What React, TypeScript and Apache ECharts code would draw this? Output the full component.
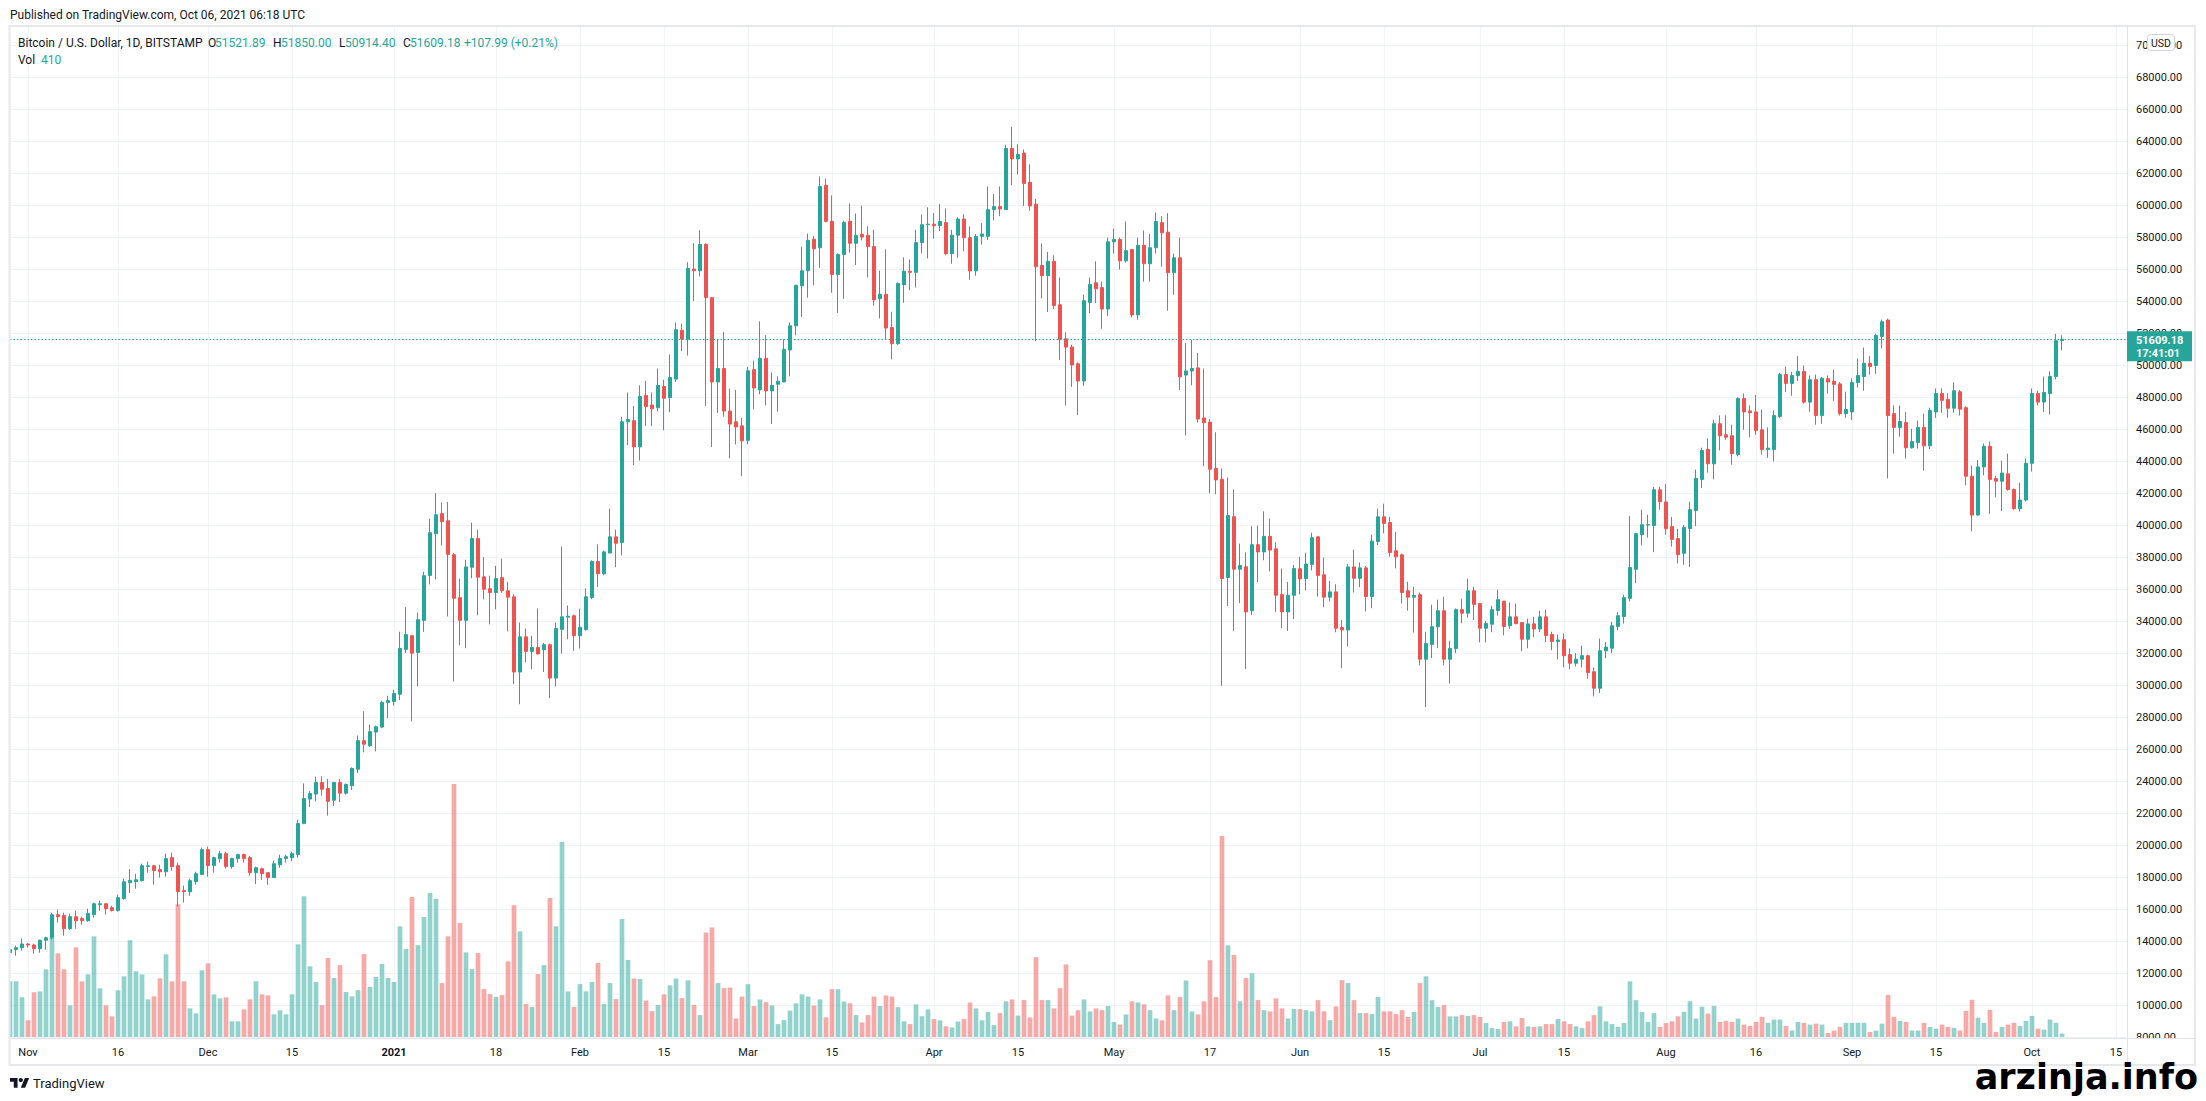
import React, { useEffect, useRef } from 'react';
import * as echarts from 'echarts';

// ---------- categories ----------
const startDate = Date.UTC(2020, 9, 29);
const dayCount = 354; // Oct 29 2020 .. Oct 17 2021 (right side empty)
const dates: string[] = Array.from({ length: dayCount }, (_, i) =>
  new Date(startDate + i * 86400000).toISOString().slice(0, 10)
);

const tickDates = ['2020-11-01', '2020-11-16', '2020-12-01', '2020-12-15', '2021-01-01', '2021-01-18', '2021-02-01', '2021-02-15', '2021-03-01', '2021-03-15', '2021-04-01', '2021-04-15', '2021-05-01', '2021-05-17', '2021-06-01', '2021-06-15', '2021-07-01', '2021-07-15', '2021-08-01', '2021-08-16', '2021-09-01', '2021-09-15', '2021-10-01', '2021-10-15'];
const tickLabels = ['Nov', '16', 'Dec', '15', '2021', '18', 'Feb', '15', 'Mar', '15', 'Apr', '15', 'May', '17', 'Jun', '15', 'Jul', '15', 'Aug', '16', 'Sep', '15', 'Oct', '15'];

// ---------- OHLC rows: [open, high, low, close] ----------
const oct2020 = [
  [13270, 13646, 12980, 13460], [13460, 13710, 13080, 13580], [13580, 14150, 13400, 13810],
];
const nov2020 = [
  [13810, 13870, 13600, 13750], [13750, 13830, 13210, 13520], [13520, 14080, 13270, 14050], [14050, 14270, 13460, 14200],
  [14200, 15770, 14100, 15640], [15640, 15960, 15150, 15520], [15600, 15770, 14330, 14770], [14770, 15710, 14700, 15520],
  [15520, 15900, 14770, 15270], [15400, 15520, 15020, 15270], [15270, 16020, 15200, 15710], [15650, 16400, 15460, 16330],
  [16270, 16520, 15900, 16330], [16330, 16330, 15650, 16020], [16080, 16200, 15840, 15900], [15900, 16900, 15840, 16710],
  [16650, 17900, 16580, 17700], [17640, 18500, 17000, 17790], [17710, 18200, 17270, 17830], [17770, 18830, 17710, 18710],
  [18650, 18960, 18270, 18700], [18700, 18770, 17520, 18400], [18460, 18770, 17960, 18330], [18330, 19460, 18020, 19150],
  [19210, 19520, 18390, 18650], [18710, 18900, 16150, 17080], [17150, 17460, 16400, 17080], [17080, 17900, 16830, 17770],
  [17710, 18330, 17520, 18200], [18150, 19840, 18150, 19710],
];
const dec2020 = [
  [19710, 19900, 18020, 18710], [18710, 19270, 18270, 19210], [19150, 19640, 18900, 19460], [19460, 19580, 18520, 18650],
  [18650, 19210, 18520, 19150], [19150, 19460, 18900, 19400], [19400, 19460, 18900, 19150], [19210, 19330, 18080, 18270],
  [18270, 18650, 17560, 18580], [18520, 18580, 17830, 18210], [18270, 18270, 17520, 17960], [17960, 19020, 17960, 18830],
  [18770, 19390, 18580, 19150], [19150, 19390, 18900, 19270], [19210, 19580, 18980, 19460], [19400, 21580, 19210, 21350],
  [21350, 23850, 21300, 22910], [22870, 23360, 22380, 23220], [23180, 24270, 22730, 23910], [23910, 24300, 23080, 23490],
  [23530, 24130, 21840, 22730], [22800, 23940, 22440, 23910], [23910, 24130, 22690, 23240], [23240, 23840, 23150, 23780],
  [23710, 24850, 23440, 24780], [24740, 26840, 24490, 26520], [26520, 28360, 25790, 26300], [26210, 27530, 26120, 27080],
  [27060, 27460, 25850, 27390], [27370, 29020, 27300, 28910], [28910, 29330, 27930, 29020],
];
const jan2021 = [
  [28970, 29710, 28710, 29470], [29420, 33330, 29060, 32280], [32230, 34860, 31990, 33150], [33080, 33080, 27730, 31990],
  [32030, 34530, 29910, 34080], [34040, 37070, 33320, 36830], [36850, 40390, 36290, 39520], [39460, 42000, 36600, 40640],
  [40710, 41400, 38720, 40220], [40260, 41440, 34280, 38160], [38140, 38250, 30230, 35420], [35460, 36650, 32480, 34040],
  [34040, 37830, 32300, 37380], [37360, 40150, 36670, 39150], [39150, 39710, 34350, 36740], [36760, 37990, 35350, 35980],
  [36020, 36830, 33790, 35780], [35780, 37450, 34730, 36650], [36710, 37900, 35760, 35890], [35890, 36450, 33350, 35490],
  [35510, 35660, 30050, 30810], [30810, 33900, 28800, 33010], [33010, 33530, 31430, 32100], [32100, 33080, 30980, 32340],
  [32340, 34790, 31920, 31940], [32210, 32630, 30810, 32520], [32520, 32590, 29180, 30430], [30430, 33900, 29910, 33530],
  [33480, 38650, 31970, 34260], [34240, 34970, 32860, 34300], [34330, 34400, 32140, 33080],
];
const feb2021 = [
  [33080, 34770, 32280, 33610], [33460, 36040, 33400, 35510], [35470, 37790, 35360, 37720], [37720, 38790, 36130, 36960],
  [36960, 38410, 36850, 38320], [38250, 41020, 38230, 39260], [39260, 39710, 37360, 38860], [38900, 46770, 38100, 46450],
  [46450, 48280, 45000, 46590], [46520, 47430, 43750, 44880], [44880, 48730, 44030, 48030], [48100, 49010, 46200, 47400],
  [47500, 48280, 46170, 47260], [47330, 49780, 47120, 48730], [48660, 49080, 45920, 47920], [47960, 50660, 47050, 49220],
  [49120, 52660, 48940, 52210], [52170, 52590, 50870, 51610], [51610, 56420, 50590, 56030], [56000, 57610, 54000, 55890],
  [55890, 58420, 55540, 57540], [57540, 57610, 47440, 54210], [54210, 54210, 44870, 48940], [48940, 51580, 47010, 49780],
  [49780, 52070, 46770, 47120], [47120, 48520, 44170, 46310], [46450, 48450, 45040, 46130], [46200, 46700, 43050, 45260],
];
const mar2021 = [
  [45290, 49880, 45050, 49640], [49710, 50280, 47230, 48560], [48450, 52730, 48170, 50420], [50420, 51860, 47470, 48380],
  [48380, 49540, 46310, 48730], [48800, 49290, 47080, 48980], [48940, 51610, 48940, 50980], [50940, 52660, 49290, 52450],
  [52450, 55020, 51860, 54980], [54950, 57400, 53010, 55890], [55890, 58210, 54210, 57790], [57860, 58070, 54980, 57260],
  [57330, 61790, 56070, 61160], [61230, 61650, 58910, 58980], [58980, 60600, 54520, 55650], [55650, 56980, 53260, 56910],
  [56910, 59020, 54140, 58910], [58980, 60100, 57020, 57610], [57610, 59470, 56250, 58100], [58170, 59960, 57790, 58000],
  [58100, 58670, 55470, 57400], [57400, 58450, 53710, 54070], [54140, 55890, 52910, 54420], [54420, 57230, 51610, 52310],
  [52340, 53330, 50350, 51330], [51330, 55160, 51260, 55090], [55020, 56730, 53890, 55860], [55860, 56590, 54670, 55790],
  [55790, 58450, 54840, 57650], [57650, 59400, 56980, 58770], [58770, 59860, 56660, 58800],
];
const apr2021 = [
  [58800, 59490, 57890, 58700], [58710, 60050, 58370, 58970], [58900, 59790, 56850, 56960], [56960, 58450, 56330, 58110],
  [58110, 59230, 56700, 59120], [59120, 59420, 57110, 57960], [57960, 58670, 55320, 55880], [55880, 58190, 55580, 58040],
  [58040, 58860, 57520, 58190], [58040, 61160, 57820, 59710], [59710, 60680, 59040, 59900], [59900, 61160, 59300, 59750],
  [59710, 63770, 59710, 63540], [63540, 64880, 61240, 62880], [62880, 63800, 61900, 63170], [63250, 63470, 59940, 61350],
  [61420, 62540, 59640, 59940], [60050, 60380, 51490, 56140], [56220, 57590, 54170, 55580], [55580, 57070, 53310, 56480],
  [56480, 56850, 53500, 53720], [53760, 55470, 50300, 51600], [51640, 52050, 47470, 51120], [51120, 51270, 48630, 50000],
  [50080, 50160, 46880, 49000], [49000, 54390, 48700, 54020], [53910, 55470, 53240, 55030], [55140, 56480, 53870, 54770],
  [54840, 55210, 52270, 53500], [53500, 57960, 53060, 57700],
];
const may2021 = [
  [57700, 58520, 56960, 57850], [57850, 57960, 55960, 56510], [56510, 58970, 56400, 57150], [57220, 57220, 52980, 53130],
  [53130, 57960, 52830, 57480], [57480, 58410, 55210, 56330], [56330, 58190, 55210, 57330], [57330, 59530, 56960, 58970],
  [58900, 59300, 56140, 58260], [58300, 59490, 53390, 55770], [55770, 56960, 54390, 56700], [56700, 57960, 48440, 49260],
  [49370, 51380, 45610, 49630], [49630, 51570, 48740, 49780], [49820, 50750, 46400, 46620], [46690, 49780, 43680, 46400],
  [46430, 46620, 41970, 43490], [43530, 45800, 41930, 42820], [42860, 43530, 29950, 36650], [36720, 42970, 34940, 40590],
  [40520, 42230, 33380, 37240], [37240, 38840, 35120, 37470], [37390, 38290, 30990, 34570], [34640, 39920, 34380, 38770],
  [38770, 39960, 36430, 38320], [38320, 40850, 37800, 39290], [39290, 40410, 37100, 38430], [38510, 38920, 34570, 35610],
  [35650, 37280, 33560, 34570], [34570, 36430, 33380, 35610], [35610, 37500, 34120, 37280],
];
const jun2021 = [
  [37270, 38010, 35670, 36630], [36650, 38270, 35910, 37560], [37540, 39520, 37160, 39210], [39260, 39260, 35530, 36850],
  [36890, 37960, 34860, 35490], [35490, 36510, 35220, 35820], [35820, 36300, 33300, 33550], [33590, 34060, 31050, 33440],
  [33440, 37560, 32410, 37380], [37380, 38450, 35780, 36670], [36670, 37660, 36120, 37320], [37320, 37430, 34600, 35530],
  [35530, 39390, 34800, 38990], [38970, 41020, 38750, 40510], [40510, 41330, 39480, 40100], [40150, 40510, 38030, 38280],
  [38390, 39570, 37290, 38010], [38140, 38210, 35090, 35780], [35890, 36450, 34640, 35490], [35490, 36140, 33280, 35600],
  [35640, 35780, 31230, 31610], [31610, 33330, 28620, 32590], [32540, 35020, 31680, 33640], [33640, 35330, 32300, 34640],
  [34640, 35510, 31230, 31610], [31610, 32770, 30090, 32280], [32280, 34780, 31990, 34710], [34710, 35400, 33860, 34490],
  [34490, 36650, 34220, 35890], [35890, 36140, 34060, 35040],
];
const jul2021 = [
  [35090, 35090, 32660, 33550], [33550, 34000, 32660, 33840], [33800, 34950, 33300, 34710], [34660, 35960, 34330, 35330],
  [35240, 35240, 33100, 33660], [33700, 35150, 33500, 34260], [34260, 35090, 33790, 33840], [33900, 33900, 32100, 32860],
  [32860, 34150, 32300, 33820], [33820, 34260, 32990, 33500], [33500, 34640, 33300, 34260], [34260, 34710, 32680, 33100],
  [33150, 33330, 32170, 32720], [32720, 33150, 31610, 32810], [32830, 33210, 31100, 31830], [31900, 32280, 30980, 31360],
  [31360, 31990, 31160, 31610], [31610, 32460, 31100, 31830], [31830, 31900, 30400, 30780], [30830, 31100, 29290, 29800],
  [29800, 32900, 29490, 32140], [32140, 32680, 31680, 32370], [32300, 33950, 31990, 33700], [33660, 34570, 33410, 34330],
  [34280, 35640, 33840, 35460], [35420, 40570, 35220, 37340], [37230, 39520, 36360, 39460], [39390, 40950, 38720, 40020],
  [40000, 40640, 39210, 40020], [39970, 42380, 38300, 42200], [42200, 42380, 40950, 41460],
];
const aug2021 = [
  [41440, 42580, 39390, 39770], [39900, 40500, 38650, 39100], [39150, 39750, 37600, 38140], [38230, 40010, 37520, 39840],
  [39780, 41450, 37380, 40960], [40900, 43460, 39930, 42910], [42850, 44830, 42310, 44660], [44720, 45410, 43280, 43830],
  [43830, 46580, 42850, 46330], [46330, 46850, 44660, 45580], [45640, 46850, 45320, 45490], [45580, 46270, 43770, 44460],
  [44400, 47990, 44290, 47900], [47900, 48220, 45950, 47070], [47130, 47470, 45470, 47020], [47070, 48130, 45640, 45900],
  [45950, 47210, 44400, 44720], [44720, 46100, 44200, 44800], [44720, 47160, 43970, 46840], [46790, 49510, 46700, 49400],
  [49400, 49890, 48310, 48850], [48850, 49570, 48080, 49340], [49340, 50570, 49000, 49600], [49600, 49970, 47590, 47680],
  [47680, 49340, 47070, 49080], [49080, 49400, 46270, 46840], [46840, 49250, 46330, 49170], [49140, 49340, 48220, 48940],
  [48970, 49710, 47760, 48790], [48820, 48940, 46840, 46960], [46960, 48330, 46700, 47220],
];
const sep2021 = [
  [47070, 49170, 46560, 48910], [48910, 50400, 48590, 49340], [49280, 51090, 48390, 50110], [50110, 50570, 49400, 49910],
  [49970, 51950, 49450, 51840], [51780, 52840, 51030, 52700], [52810, 52900, 42910, 46840], [46960, 47470, 44460, 46100],
  [46100, 47470, 45520, 46470], [46410, 47070, 44150, 44830], [44830, 46010, 44780, 45210], [45150, 46530, 44780, 46100],
  [46100, 46960, 43400, 44950], [44950, 47330, 44750, 47160], [47070, 48540, 46700, 48220], [48220, 48540, 47010, 47790],
  [47850, 48220, 46700, 47300], [47300, 48910, 47010, 48390], [48330, 48450, 46840, 47240], [47330, 47420, 42480, 43050],
  [43050, 43710, 39610, 40620], [40620, 44060, 40580, 43630], [43630, 45090, 43110, 44920], [44920, 45210, 40700, 42850],
  [42910, 43080, 41730, 42740], [42740, 44030, 40870, 43250], [43200, 44460, 42140, 42220], [42220, 42280, 40960, 41020],
  [41020, 42650, 40840, 41560], [41560, 44150, 41480, 43860],
];
const oct2021 = [
  [43860, 48540, 43340, 48220], [48220, 48390, 47470, 47680], [47680, 49280, 47070, 48280], [48220, 49600, 46900, 49280],
  [49280, 51950, 49110, 51520], [51521.89, 51850.0, 50914.4, 51609.18],
];

// ---------- volume (BTC) ----------
const volOct2020 = [6680, 6680, 4760];
const volNov2020 = [2000, 5360, 5480, 8120, 11920, 10040, 8120, 3800, 10760, 6680, 7520, 12080, 5840, 3800, 2480, 5600, 7280, 11600, 7880, 7520, 4520, 4880, 7040, 9920, 6680, 15920, 6680, 3440, 2840, 8000];
const volDec2020 = [8840, 5120, 4640, 4760, 1880, 1880, 3320, 4520, 6680, 5120, 5000, 2720, 3200, 2720, 5120, 11120, 16880, 8480, 6600, 3820, 9470, 7070, 8620, 5400, 4880, 5620, 9950, 6000, 7200, 8750, 7070];
const volJan2021 = [6600, 13280, 10550, 16800, 11020, 14400, 17270, 16550, 6470, 12080, 30350, 13670, 10150, 8150, 10070, 5750, 5150, 4800, 5020, 9080, 15820, 12680, 3950, 3600, 7550, 8620, 16670, 13280, 23400, 5480, 3600];
const volFeb2021 = [6350, 5480, 6600, 8870, 3950, 6470, 4550, 14160, 9240, 7010, 6950, 4380, 3100, 3840, 5120, 6200, 7010, 4660, 6800, 3840, 2630, 12540, 13150, 6470, 5870, 5930, 2220, 4850];
const volMar2021 = [6340, 3710, 4510, 4180, 3780, 1550, 2030, 3170, 4040, 5120, 4850, 3780, 4510, 2360, 5740, 5740, 4250, 4040, 2630, 1750, 2630, 4850, 3710, 4990, 4850, 3580, 1880, 1550, 3910, 2500, 3300];
const volApr2021 = [2150, 2000, 1280, 1140, 1860, 2150, 4140, 3430, 2000, 3000, 1430, 2860, 4280, 4500, 2570, 4430, 2350, 9580, 4430, 4430, 3430, 5860, 8710, 2570, 3220, 4500, 3070, 3430, 3220, 3720];
const volMay2021 = [1790, 1500, 2710, 4280, 4140, 3920, 3220, 2220, 2000, 5000, 3220, 4790, 6780, 3070, 2710, 4280, 9220, 4790, 24120, 11000, 9850, 4280, 7070, 7640, 4430, 3220, 3070, 4640, 3430, 2220, 3360];
const volJun2021 = [3350, 3220, 3080, 4420, 3080, 2020, 3680, 6820, 6470, 4420, 2870, 2870, 2750, 4800, 3080, 3080, 2750, 3220, 2400, 3000, 6470, 7280, 4420, 3600, 3820, 2480, 2480, 2620, 2530, 2620];
const volJul2021 = [2400, 1670, 1070, 950, 1800, 1880, 1280, 2270, 1280, 1200, 1280, 1550, 1550, 2150, 1880, 1550, 1280, 1070, 1880, 2620, 3680, 1880, 1550, 1200, 1670, 6680, 4420, 3000, 1800, 2870, 1200];
const volAug2021 = [1670, 1880, 2480, 3020, 4300, 2200, 3640, 2810, 3740, 1810, 1930, 1810, 2200, 1490, 1320, 1810, 2420, 1700, 2090, 2090, 1320, 770, 1810, 1700, 1490, 1600, 1490, 490, 770, 1210, 1700];
const volSep2021 = [1700, 1700, 1700, 600, 770, 1600, 5060, 2420, 1930, 1810, 770, 770, 1700, 1210, 1000, 1490, 1210, 1100, 770, 3130, 4460, 2320, 1700, 3250, 600, 1210, 1490, 1700, 1320, 1930];
const volOct2021 = [2530, 1000, 880, 2090, 1700, 410];

const priceTicks = { min: 8000, max: 70000, step: 2000 };

// ---------- assembled ----------
const ohlc = [...oct2020, ...nov2020, ...dec2020, ...jan2021, ...feb2021, ...mar2021, ...apr2021, ...may2021, ...jun2021, ...jul2021, ...aug2021, ...sep2021, ...oct2021];
const volumes = [...volOct2020, ...volNov2020, ...volDec2020, ...volJan2021, ...volFeb2021, ...volMar2021, ...volApr2021, ...volMay2021, ...volJun2021, ...volJul2021, ...volAug2021, ...volSep2021, ...volOct2021];
const last = ohlc[ohlc.length - 1];
const lastClose = last[3];

const UP = '#26a69a';
const DOWN = '#ef5350';
const UP_VOL = 'rgba(38,166,154,0.5)';
const DOWN_VOL = 'rgba(239,83,80,0.5)';
const TXT = '#131722';
const GRID = '#f0f3fa';
const FONT = 'Roboto, "Noto Sans", sans-serif';

echarts.graphic.registerShape(
  'tvlogo',
  echarts.graphic.extendPath('M14 22H7V11H0V4h14v18zM28 22h-8l7.5-18h8L28 22zM24 8a4 4 0 1 1-8 0 4 4 0 0 1 8 0z', {})
);

export default function App() {
  const ref = useRef<HTMLDivElement>(null);

  useEffect(() => {
    if (!ref.current) return;
    const chart = echarts.init(ref.current, undefined, { renderer: 'svg' });

    const tickSet = new Map<string, string>();
    tickDates.forEach((d, i) => tickSet.set(d, tickLabels[i]));
    const isTick = (_i: number, v: string) => tickSet.has(v);

    const candleData = ohlc.map((r) => [r[0], r[3], r[2], r[1]]);
    const volData = volumes.map((v, i) => ({
      value: v,
      itemStyle: { color: ohlc[i][3] >= ohlc[i][0] ? UP_VOL : DOWN_VOL },
    }));

    const txt = (id: string, text: string, x: number, y: number, fill: string, size = 12, extra: any = {}) => ({
      id, type: 'text', x, y, z: 60, silent: true,
      style: { text, fill, fontSize: size, fontFamily: FONT, verticalAlign: 'middle', align: 'left', ...extra },
    });

    const option: any = {
      animation: false,
      backgroundColor: '#ffffff',
      grid: [
        { left: 10, width: 2118, top: 45, height: 992 },
        { left: 10, width: 2118, top: 737, height: 300 },
        { left: 10, width: 2118, top: 26, height: 1012 },
      ],
      xAxis: [
        { type: 'category', gridIndex: 0, data: dates, boundaryGap: false, show: false },
        { type: 'category', gridIndex: 1, data: dates, boundaryGap: false, show: false },
        {
          type: 'category', gridIndex: 2, data: dates, boundaryGap: false,
          axisLine: { show: false }, axisTick: { show: false },
          axisLabel: {
            interval: isTick, margin: 9, color: TXT, fontSize: 11, fontFamily: FONT,
            formatter: (v: string) => (tickSet.get(v) === '2021' ? '{b|2021}' : tickSet.get(v) || ''),
            rich: { b: { fontWeight: 'bold', fontSize: 11, color: TXT, fontFamily: FONT } },
          },
          splitLine: { show: true, interval: isTick, lineStyle: { color: GRID, width: 1 } },
        },
      ],
      yAxis: [
        {
          type: 'value', gridIndex: 0, position: 'right', min: priceTicks.min, max: priceTicks.max, interval: priceTicks.step,
          axisLine: { show: false }, axisTick: { show: false },
          axisLabel: { formatter: (v: number) => v.toFixed(2), color: TXT, fontSize: 11, fontFamily: FONT, margin: 8, align: 'left' },
          splitLine: { show: true, lineStyle: { color: GRID, width: 1 } },
        },
        { type: 'value', gridIndex: 1, min: 0, max: 36000, show: false, splitLine: { show: false } },
        { type: 'value', gridIndex: 2, show: false, splitLine: { show: false } },
      ],
      series: [
        {
          type: 'bar', xAxisIndex: 1, yAxisIndex: 1, data: volData, barWidth: 4.7, z: 2,
        },
        {
          type: 'candlestick', xAxisIndex: 0, yAxisIndex: 0, data: candleData, barWidth: 3.8, z: 3,
          itemStyle: { color: UP, color0: DOWN, borderColor: UP, borderColor0: DOWN, borderColorDoji: UP, borderWidth: 1 },
          markLine: {
            silent: true, symbol: ['none', 'none'], animation: false,
            label: { show: false },
            lineStyle: { color: UP, type: [1.5, 2], width: 1.2, opacity: 1 },
            data: [{ yAxis: lastClose }],
          },
        },
      ],
      graphic: {
        elements: [
          { id: 'coverL', type: 'rect', z: 40, silent: true, shape: { x: 0, y: 20, width: 9, height: 1060 }, style: { fill: '#fff' } },
          { id: 'coverAx', type: 'rect', z: 40, silent: true, shape: { x: 2128.5, y: 1038.5, width: 66, height: 26 }, style: { fill: '#fff' } },
          { id: 'frame', type: 'rect', z: 45, silent: true, shape: { x: 9.5, y: 26, width: 2185.5, height: 1039 }, style: { fill: 'none', stroke: '#e6e8ee', lineWidth: 2 } },
          { id: 'sep', type: 'line', z: 45, silent: true, shape: { x1: 2127.5, y1: 26, x2: 2127.5, y2: 1065 }, style: { stroke: '#e0e3eb', lineWidth: 1 } },
          { id: 'hsep', type: 'line', z: 45, silent: true, shape: { x1: 9, y1: 1038.5, x2: 2195, y2: 1038.5 }, style: { stroke: '#e0e3eb', lineWidth: 1 } },
          txt('pub', 'Published on TradingView.com, Oct 06, 2021 06:18 UTC', 10, 15, TXT, 12),
          txt('lg0', 'Bitcoin / U.S. Dollar, 1D, BITSTAMP', 18, 43, TXT, 12),
          txt('lgO', 'O', 208, 43, TXT, 12),
          txt('lgOv', last[0].toFixed(2), 215, 43, UP, 12),
          txt('lgH', 'H', 273, 43, TXT, 12),
          txt('lgHv', last[1].toFixed(2), 281, 43, UP, 12),
          txt('lgL', 'L', 339, 43, TXT, 12),
          txt('lgLv', last[2].toFixed(2), 345, 43, UP, 12),
          txt('lgC', 'C', 403, 43, TXT, 12),
          txt('lgCv', last[3].toFixed(2), 410, 43, UP, 12),
          txt('lgChg', '+107.99 (+0.21%)', 464, 43, UP, 12),
          txt('vol', 'Vol', 18, 60, TXT, 12),
          txt('volv', String(volumes[volumes.length - 1]), 41, 60, UP, 12),
          { id: 'usdBox', type: 'rect', z: 60, silent: true, shape: { x: 2147.5, y: 34.5, width: 27, height: 16, r: 3 }, style: { fill: '#fff', stroke: '#d1d4dc', lineWidth: 1 } },
          txt('usd', 'USD', 2161, 43, TXT, 10.5, { align: 'center' }),
          { id: 'logo', type: 'tvlogo', z: 60, silent: true, x: 10, y: 1075.8, scaleX: 0.54, scaleY: 0.54, style: { fill: TXT } },
          txt('tv', 'TradingView', 33, 1083, TXT, 13),
          { id: 'wm', type: 'text', z: 60, silent: true, x: 2198, y: 1077, style: { text: 'arzinja.info', fill: '#000', fontSize: 35, fontWeight: 'bold', fontFamily: '"DejaVu Sans", sans-serif', align: 'right', verticalAlign: 'middle' } },
        ],
      },
    };

    chart.setOption(option);

    const py = chart.convertToPixel({ yAxisIndex: 0 } as any, lastClose) as unknown as number;
    chart.setOption({
      graphic: {
        elements: [
          { id: 'pbox', type: 'rect', z: 70, silent: true, shape: { x: 2127, y: py - 8, width: 65, height: 30 }, style: { fill: UP } },
          { id: 'pboxT1', type: 'text', z: 71, silent: true, x: 2136, y: py + 1, style: { text: lastClose.toFixed(2), fill: '#fff', fontSize: 11, fontWeight: 'bold', fontFamily: FONT, verticalAlign: 'middle' } },
          { id: 'pboxT2', type: 'text', z: 71, silent: true, x: 2136, y: py + 14, style: { text: '17:41:01', fill: '#fff', fontSize: 11, fontWeight: 'bold', fontFamily: FONT, verticalAlign: 'middle' } },
        ],
      },
    });

    return () => chart.dispose();
  }, []);

  return (
    <div
      ref={ref}
      style={{ position: 'fixed', left: 0, top: 0, width: 2206, height: 1101, background: '#fff' }}
    />
  );
}
